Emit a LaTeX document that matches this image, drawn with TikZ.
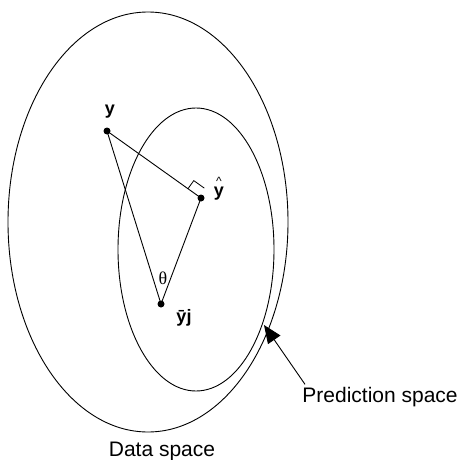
\documentclass[tikz,border=0pt]{standalone}
\usepackage{fontspec}
\setmainfont{Liberation Sans}
\newfontfamily\thetafont{Liberation Serif}
\usetikzlibrary{arrows.meta,calc}
\begin{document}
\begin{tikzpicture}[x=1pt,y=-1pt, line width=0.9pt,
 dot/.style={circle,fill,inner sep=0pt,minimum size=7pt},
 lbl/.style={font=\fontsize{18}{18}\selectfont\bfseries, inner sep=0pt},
 capt/.style={font=\fontsize{21}{21}\selectfont, inner sep=0pt}]
\useasboundingbox (0,0) rectangle (461,460);
\draw (148,222) ellipse [x radius=140, y radius=210];
\draw (196,249.5) ellipse [x radius=78, y radius=141.5];
\node[dot] (Y) at (107,131) {};
\node[dot] (YH) at (201,198) {};
\node[dot] (YB) at (161,304) {};
\draw (Y.center) -- (YH.center) -- (YB.center) -- (Y.center);
\coordinate (m1) at ($(YH.center)!16pt!(Y.center)$);
\coordinate (m3) at ($(YH.center)!3pt!(Y.center)$);
\draw[line width=0.8pt] (m1) -- ($(m1)+(5.8,-8.1)$) -- ($(m3)+(5.8,-8.1)$);
\node[lbl, anchor=base] (ly) at (110,114) {y};
\node[lbl, anchor=base] (lyh) at (219,196)
  {\rlap{\hspace{2.2pt}\raisebox{11pt}[0pt][0pt]{\fontsize{12}{12}\mdseries\selectfont\textasciicircum}}y};
\node[lbl, anchor=base] (lyb) at (184,322) {\={y}j};
\node[font=\thetafont\fontsize{18}{18}\selectfont, inner sep=0pt] (th) at (163,278) {θ};
\coordinate (tip) at (264,325);
\node[capt, anchor=base west] (pred) at (302,402) {Prediction space};
\draw[-{Triangle[length=18pt,width=15pt]}] ([xshift=3pt,yshift=2pt]pred.north west) -- (tip);
\node[capt, anchor=base] (data) at (162,456) {Data space};
\end{tikzpicture}
\end{document}
